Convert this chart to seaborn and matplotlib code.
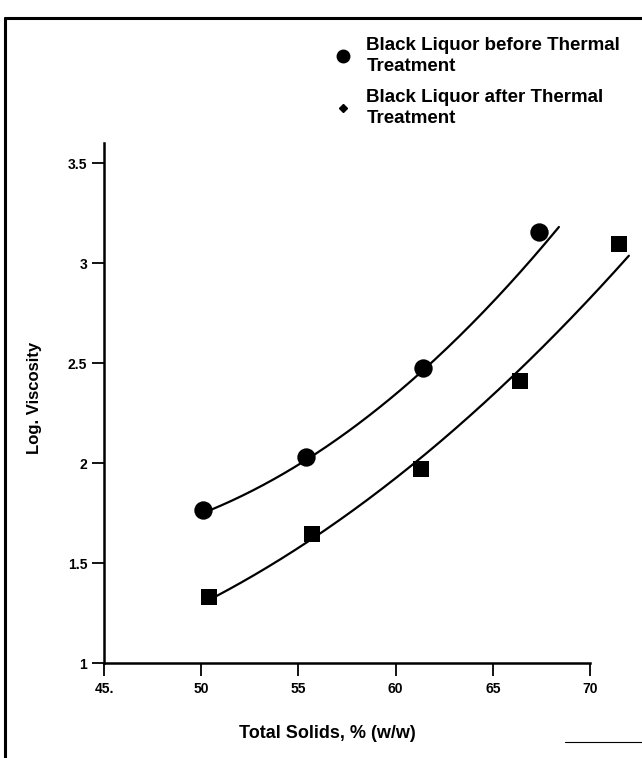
import numpy as np
import pandas as pd
import matplotlib
matplotlib.use("Agg")
import matplotlib.pyplot as plt
import seaborn as sns
from matplotlib.lines import Line2D

# ---- data ----
solids_before = [50.1, 55.4, 61.4, 67.4]
visc_before = [1.765, 2.03, 2.475, 3.155]
solids_after = [50.4, 55.7, 61.3, 66.4, 71.5]
visc_after = [1.33, 1.645, 1.97, 2.41, 3.095]
# trend-curve readings (drawn smooth curves in the reference)
trend_x_before = [50.5, 55.5, 61.4, 65.3, 67.3, 68.4]
trend_y_before = [1.765, 2.025, 2.46, 2.825, 3.08, 3.165]
trend_x_after = [50.8, 55.7, 61.4, 66.1, 68.0, 72.0]
trend_y_after = [1.34, 1.615, 2.025, 2.455, 2.625, 3.03]
xticks = [45, 50, 55, 60, 65, 70]
xticklabels = ["45.", "50", "55", "60", "65", "70"]
yticks = [1, 1.5, 2, 2.5, 3, 3.5]
yticklabels = ["1", "1.5", "2", "2.5", "3", "3.5"]
label_before = "Black Liquor before Thermal\nTreatment"
label_after = "Black Liquor after Thermal\nTreatment"

sns.set_style("white")
plt.rcParams['font.family'] = ['Liberation Sans', 'DejaVu Sans']
plt.rcParams['font.weight'] = 'bold'
plt.rcParams['text.color'] = 'black'
plt.rcParams['axes.labelcolor'] = 'black'
plt.rcParams['xtick.color'] = 'black'
plt.rcParams['ytick.color'] = 'black'

fig = plt.figure(figsize=(6.42, 7.58), dpi=100)
ax = fig.add_axes([0.162, 0.1253, 0.757, 0.686])

df_b = pd.DataFrame({"x": solids_before, "y": visc_before})
df_a = pd.DataFrame({"x": solids_after, "y": visc_after})

# smooth quadratic through the trend readings
cb = np.polyfit(trend_x_before, trend_y_before, 2)
ca = np.polyfit(trend_x_after, trend_y_after, 2)
xb = np.linspace(trend_x_before[0], trend_x_before[-1], 200)
xa = np.linspace(trend_x_after[0], trend_x_after[-1], 200)
fit_b = pd.DataFrame({"x": xb, "y": np.polyval(cb, xb)})
fit_a = pd.DataFrame({"x": xa, "y": np.polyval(ca, xa)})

sns.lineplot(data=fit_b, x="x", y="y", ax=ax, color="black", lw=1.6)
sns.lineplot(data=fit_a, x="x", y="y", ax=ax, color="black", lw=1.6)
sns.scatterplot(data=df_b, x="x", y="y", ax=ax, color="black", marker="o", s=175,
                edgecolor="black", linewidth=0, zorder=5)
sns.scatterplot(data=df_a, x="x", y="y", ax=ax, color="black", marker="s", s=120,
                edgecolor="black", linewidth=0, zorder=5)
for line in ax.lines:
    line.set_clip_on(False)
for coll in ax.collections:
    coll.set_clip_on(False)

ax.set_xlim(45, 70)
ax.set_ylim(1, 3.6)
ax.set_xticks(xticks)
ax.set_xticklabels(xticklabels, fontsize=10, fontweight='bold')
ax.set_yticks(yticks)
ax.set_yticklabels(yticklabels, fontsize=10, fontweight='bold')
ax.spines['top'].set_visible(False)
ax.spines['right'].set_visible(False)
for s in ['left', 'bottom']:
    ax.spines[s].set_linewidth(1.8)
    ax.spines[s].set_color('black')
ax.tick_params(axis='y', direction='out', length=9, width=1.3, pad=3, left=True)
ax.tick_params(axis='x', direction='out', length=9, width=1.3, pad=5, bottom=True)

ax.set_xlabel("Total Solids, % (w/w)", fontsize=13, fontweight='bold')
ax.set_ylabel("Log. Viscosity", fontsize=12, fontweight='bold')
ax.xaxis.set_label_coords(0.459, -0.12)
ax.yaxis.set_label_coords(-0.128, 0.51)

handles = [
    Line2D([], [], marker='o', color='black', linestyle='none', markersize=9),
    Line2D([], [], marker='D', color='black', linestyle='none', markersize=4),
]
leg = fig.legend(handles, [label_before, label_after], loc='upper left',
                 bbox_to_anchor=(0.508, 0.961), frameon=False,
                 prop={'size': 13.5, 'weight': 'bold'}, handletextpad=0.75,
                 labelspacing=0.75, handlelength=1.0, borderaxespad=0)
for t in leg.get_texts():
    t.set_linespacing(1.3)

# figure frame (scanned page border)
fig.add_artist(Line2D([5/642, 5/642], [0, 1 - 18/758], transform=fig.transFigure,
                      color='black', lw=2.2))
fig.add_artist(Line2D([5/642, 1], [1 - 18/758, 1 - 18/758], transform=fig.transFigure,
                      color='black', lw=2.2))
fig.add_artist(Line2D([565/642, 1], [1 - 742/758, 1 - 742/758], transform=fig.transFigure,
                      color='black', lw=0.8))

fig.savefig("out.png", dpi=100)
